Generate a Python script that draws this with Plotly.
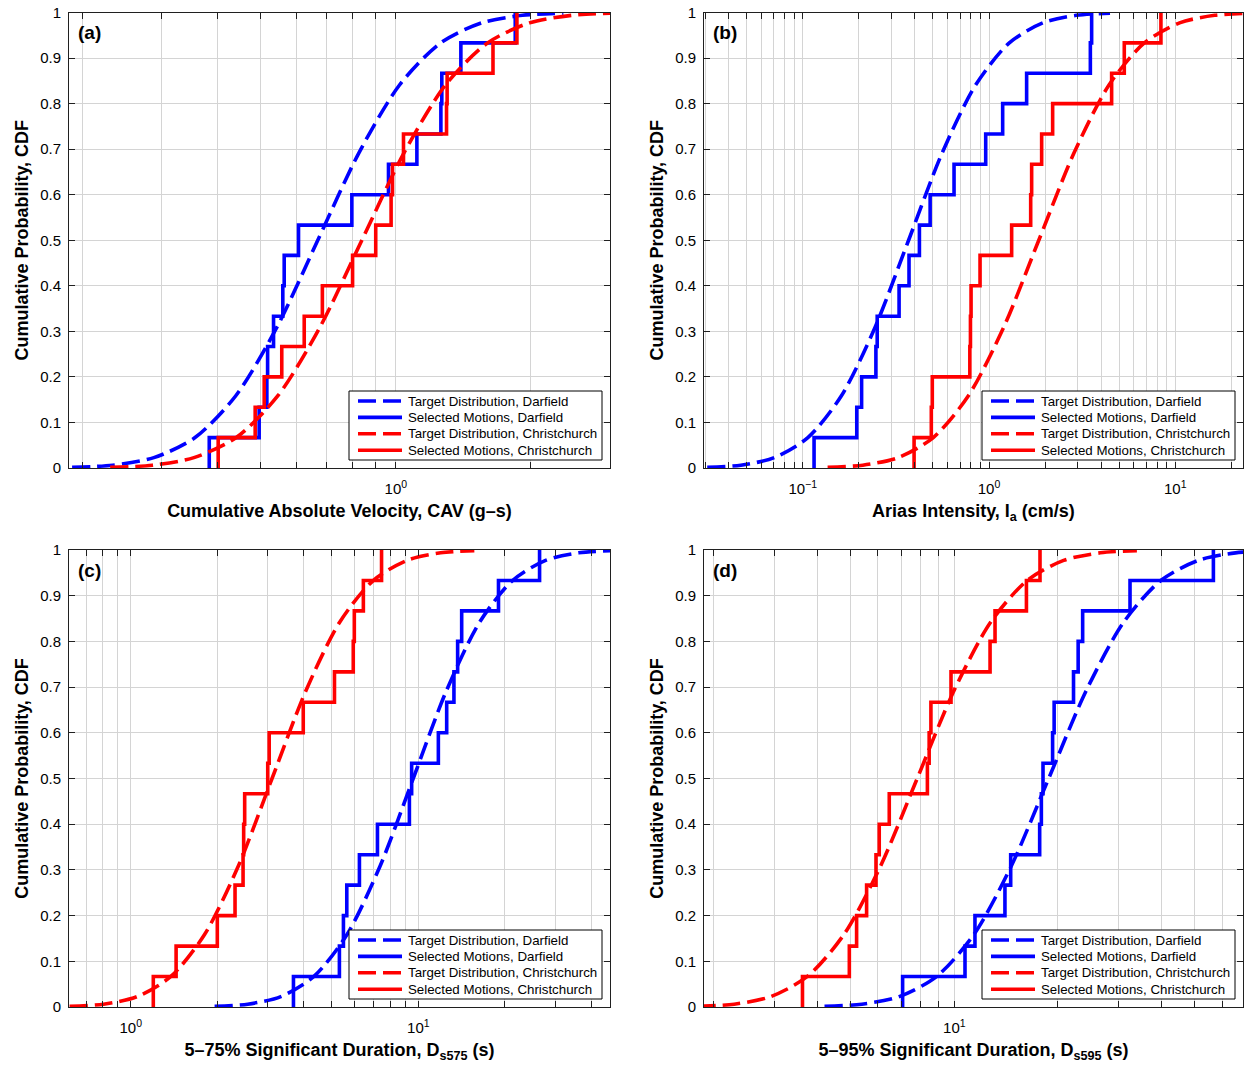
import numpy as np
import plotly.graph_objects as go

FONT = "Liberation Sans, Arial, Helvetica, sans-serif"
BLUE = "#0000ff"
RED = "#ff0000"
GRID = "#d4d4d4"
AXIS = "#202020"
DASH = "18px,7px"
LW = 3.6

# Probability levels at which the target (lognormal) CDFs were sampled
CDF_LEVELS = [0.00135, 0.00621, 0.02275, 0.06681, 0.15866, 0.30854, 0.5,
              0.69146, 0.84134, 0.93319, 0.97725, 0.99379, 0.99865]

# Empirical CDF levels for the 15 selected ground motions (start at 0)
STEP_LEVELS = [0.0, 0.0667, 0.1333, 0.2, 0.2667, 0.3333, 0.4, 0.4667,
               0.5333, 0.6, 0.6667, 0.7333, 0.8, 0.8667, 0.9333, 1.0]

# (a) Cumulative absolute velocity, CAV (g-s)
cav_target_darfield = [0.190, 0.234, 0.289, 0.357, 0.440, 0.543, 0.670,
                       0.827, 1.020, 1.258, 1.552, 1.915, 2.362]
cav_target_christchurch = [0.231, 0.287, 0.355, 0.441, 0.546, 0.677, 0.840,
                           1.042, 1.291, 1.601, 1.985, 2.461, 3.052]
cav_selected_darfield = [0.384, 0.496, 0.516, 0.518, 0.534, 0.560, 0.564, 0.607,
                         0.798, 0.963, 1.114, 1.260, 1.266, 1.396, 1.845]
cav_selected_christchurch = [0.402, 0.486, 0.509, 0.557, 0.625, 0.686, 0.801, 0.902,
                             0.976, 0.983, 1.040, 1.297, 1.301, 1.646, 1.861]

# (b) Arias intensity, Ia (cm/s)
ia_target_darfield = [0.0307, 0.0465, 0.0703, 0.1065, 0.1613, 0.2443, 0.370,
                      0.560, 0.849, 1.285, 1.946, 2.947, 4.463]
ia_target_christchurch = [0.136, 0.210, 0.325, 0.502, 0.775, 1.198, 1.850,
                          2.858, 4.416, 6.822, 10.54, 16.28, 25.16]
ia_selected_darfield = [0.115, 0.195, 0.207, 0.247, 0.251, 0.329, 0.372, 0.423,
                        0.483, 0.649, 0.960, 1.184, 1.592, 3.500, 3.556]
ia_selected_christchurch = [0.396, 0.490, 0.496, 0.789, 0.795, 0.801, 0.895, 1.323,
                            1.674, 1.694, 1.917, 2.196, 4.553, 5.324, 8.375]

# (c) 5-75% significant duration, Ds575 (s)
ds575_target_darfield = [1.957, 2.552, 3.326, 4.335, 5.651, 7.365, 9.60,
                         12.51, 16.31, 21.26, 27.71, 36.12, 47.08]
ds575_target_christchurch = [0.613, 0.804, 1.053, 1.379, 1.806, 2.367, 3.10,
                             4.061, 5.320, 6.968, 9.129, 11.96, 15.66]
ds575_selected_darfield = [3.68, 5.316, 5.49, 5.64, 6.24, 7.21, 9.31, 9.48,
                           11.74, 12.55, 13.3, 13.7, 14.15, 19.0, 26.4]
ds575_selected_christchurch = [1.198, 1.438, 2.0, 2.305, 2.458, 2.47, 2.49, 2.995,
                               3.03, 3.98, 5.11, 5.94, 5.99, 6.44, 7.45]

# (d) 5-95% significant duration, Ds595 (s)
ds595_target_darfield = [4.195, 5.386, 6.916, 8.881, 11.40, 14.64, 18.80,
                         24.14, 31.00, 39.80, 51.10, 65.62, 84.26]
ds595_target_christchurch = [1.793, 2.292, 2.927, 3.740, 4.778, 6.105, 7.80,
                             9.965, 12.73, 16.27, 20.78, 26.55, 33.92]
ds595_selected_darfield = [7.075, 10.74, 11.48, 14.03, 14.58, 17.7, 17.9, 18.1,
                           19.3, 19.5, 22.2, 22.9, 23.6, 32.4, 56.6]
ds595_selected_christchurch = [3.62, 4.953, 5.2, 5.56, 5.92, 6.05, 6.47, 8.35,
                               8.45, 8.55, 9.78, 12.7, 13.13, 16.2, 17.74]

# x-axis limits (data units) and decade ticks
cav_xlim = [0.187, 3.0]
ia_xlim = [0.0295, 23.1]
ds575_xlim = [0.61, 46.4]
ds595_xlim = [1.873, 69.0]

cav_major = [1]
ia_major = [0.1, 1, 10]
ds575_major = [1, 10]
ds595_major = [10]
cav_minor = [0.2, 0.3, 0.4, 0.5, 0.6, 0.7, 0.8, 0.9, 2, 3]
ia_minor = [0.03, 0.04, 0.05, 0.06, 0.07, 0.08, 0.09,
            0.2, 0.3, 0.4, 0.5, 0.6, 0.7, 0.8, 0.9,
            2, 3, 4, 5, 6, 7, 8, 9, 20]
ds575_minor = [0.7, 0.8, 0.9, 2, 3, 4, 5, 6, 7, 8, 9, 20, 30, 40]
ds595_minor = [2, 3, 4, 5, 6, 7, 8, 9, 20, 30, 40, 50, 60]

y_ticks = [0, 0.1, 0.2, 0.3, 0.4, 0.5, 0.6, 0.7, 0.8, 0.9, 1]
y_ticktext = ["0", "0.1", "0.2", "0.3", "0.4", "0.5", "0.6", "0.7", "0.8", "0.9", "1"]

LEGEND_NAMES = ["Target Distribution, Darfield", "Selected Motions, Darfield",
                "Target Distribution, Christchurch", "Selected Motions, Christchurch"]
LEGEND_STYLES = [(BLUE, DASH), (BLUE, "solid"), (RED, DASH), (RED, "solid")]


def decade_label(v):
    e = int(round(np.log10(v)))
    return "10<sup>%s</sup>" % (str(e).replace("-", "\u2212"))


# Panel geometry in pixels (1244 x 1065 canvas)
W, H = 1244, 1065
COL_X = [(69, 610), (704, 1243)]
ROW_Y = [(12.5, 468), (550, 1007)]

# Legend box geometry (pixels, relative to the lower-right plot corner)
LEG_W, LEG_H, LEG_INSET = 253, 69, 8
LEG_ROWS = [10, 26.4, 42.8, 59.2]

panels = [
    dict(tag="(a)", col=0, row=0, xlim=cav_xlim, major=cav_major, minor=cav_minor,
         td=cav_target_darfield, tc=cav_target_christchurch,
         sd=cav_selected_darfield, sc=cav_selected_christchurch,
         xtitle="Cumulative Absolute Velocity, CAV (g\u2013s)"),
    dict(tag="(b)", col=1, row=0, xlim=ia_xlim, major=ia_major, minor=ia_minor,
         td=ia_target_darfield, tc=ia_target_christchurch,
         sd=ia_selected_darfield, sc=ia_selected_christchurch,
         xtitle="Arias Intensity, I<sub>a</sub> (cm/s)"),
    dict(tag="(c)", col=0, row=1, xlim=ds575_xlim, major=ds575_major, minor=ds575_minor,
         td=ds575_target_darfield, tc=ds575_target_christchurch,
         sd=ds575_selected_darfield, sc=ds575_selected_christchurch,
         xtitle="5\u201375% Significant Duration, D<sub>s575</sub> (s)"),
    dict(tag="(d)", col=1, row=1, xlim=ds595_xlim, major=ds595_major, minor=ds595_minor,
         td=ds595_target_darfield, tc=ds595_target_christchurch,
         sd=ds595_selected_darfield, sc=ds595_selected_christchurch,
         xtitle="5\u201395% Significant Duration, D<sub>s595</sub> (s)"),
]

fig = go.Figure()
layout = dict(width=W, height=H,
              margin=dict(l=0, r=0, t=0, b=0, pad=0, autoexpand=False),
              autosize=False,
              paper_bgcolor="white", plot_bgcolor="white",
              font=dict(family=FONT, color="black"), showlegend=False)
annotations = []
shapes = []


def px(x):
    return x / W


def py(y):
    return 1 - y / H


for i, p in enumerate(panels, start=1):
    sfx = "" if i == 1 else str(i)
    xa, ya = "x" + sfx, "y" + sfx
    x0, x1 = COL_X[p["col"]]
    y0, y1 = ROW_Y[p["row"]]

    def step_xy(vals):
        return [vals[0]] + list(vals), STEP_LEVELS

    specs = [
        (p["td"], CDF_LEVELS, "spline"),
        (*step_xy(p["sd"]), "hv"),
        (p["tc"], CDF_LEVELS, "spline"),
        (*step_xy(p["sc"]), "hv"),
    ]
    for (xs, ys, shape), name, (color, dash) in zip(specs, LEGEND_NAMES, LEGEND_STYLES):
        fig.add_trace(go.Scatter(
            x=xs, y=ys, mode="lines", name=name,
            line=dict(color=color, width=LW, dash=dash, shape=shape,
                      smoothing=0.8 if shape == "spline" else None),
            xaxis=xa, yaxis=ya, hoverinfo="skip"))

    layout["xaxis" + sfx] = dict(
        type="log", domain=[px(x0), px(x1)], anchor=ya, automargin=False,
        range=[np.log10(p["xlim"][0]), np.log10(p["xlim"][1])],
        tickmode="array", tickvals=p["major"],
        ticktext=[decade_label(v) for v in p["major"]],
        ticks="inside", ticklen=6, tickcolor=AXIS, tickwidth=1,
        showline=True, linecolor=AXIS, linewidth=1, mirror="ticks",
        showgrid=True, gridcolor=GRID, gridwidth=1, zeroline=False,
        tickfont=dict(size=15, family=FONT, color="black"),
        ticklabelstandoff=7,
        minor=dict(tickmode="array", tickvals=p["minor"], ticks="inside", ticklen=6,
                   tickcolor=AXIS, tickwidth=1, showgrid=True, gridcolor=GRID,
                   gridwidth=1),
        title=dict(text=p["xtitle"], standoff=8,
                   font=dict(size=18, family=FONT, color="black", weight="bold")),
    )
    layout["yaxis" + sfx] = dict(
        domain=[py(y1), py(y0)], anchor=xa, range=[0, 1], automargin=False,
        tickmode="array", tickvals=y_ticks, ticktext=y_ticktext,
        ticks="inside", ticklen=6, tickcolor=AXIS, tickwidth=1,
        showline=True, linecolor=AXIS, linewidth=1, mirror="ticks",
        showgrid=True, gridcolor=GRID, gridwidth=1, zeroline=False,
        tickfont=dict(size=15, family=FONT, color="black"),
        ticklabelstandoff=4,
        title=dict(text="Cumulative Probability, CDF", standoff=6,
                   font=dict(size=18, family=FONT, color="black", weight="bold")),
    )

    # Legend box drawn in the lower-right corner of each panel
    bx1, by1 = x1 - LEG_INSET, y1 - LEG_INSET
    bx0, by0 = bx1 - LEG_W, by1 - LEG_H
    shapes.append(dict(type="rect", xref="paper", yref="paper",
                       x0=px(bx0), x1=px(bx1), y0=py(by1), y1=py(by0),
                       line=dict(color="black", width=1), fillcolor="white",
                       layer="above"))
    for name, (color, dash), dy in zip(LEGEND_NAMES, LEGEND_STYLES, LEG_ROWS):
        shapes.append(dict(type="line", xref="paper", yref="paper",
                           x0=px(bx0 + 9), x1=px(bx0 + 53),
                           y0=py(by0 + dy), y1=py(by0 + dy),
                           line=dict(color=color, width=LW, dash=dash),
                           layer="above"))
        annotations.append(dict(
            text=name, xref="paper", yref="paper", x=px(bx0 + 57), y=py(by0 + dy),
            xanchor="left", yanchor="middle", showarrow=False,
            font=dict(size=13.3, family=FONT, color="black")))

    annotations.append(dict(
        text=p["tag"], xref="paper", yref="paper",
        x=px(x0 + 7), y=py(y0 + 20), xanchor="left", yanchor="middle",
        showarrow=False, font=dict(size=19, family=FONT, color="black", weight="bold")))

layout["annotations"] = annotations
layout["shapes"] = shapes
fig.update_layout(**layout)
fig.write_html("out.html")
